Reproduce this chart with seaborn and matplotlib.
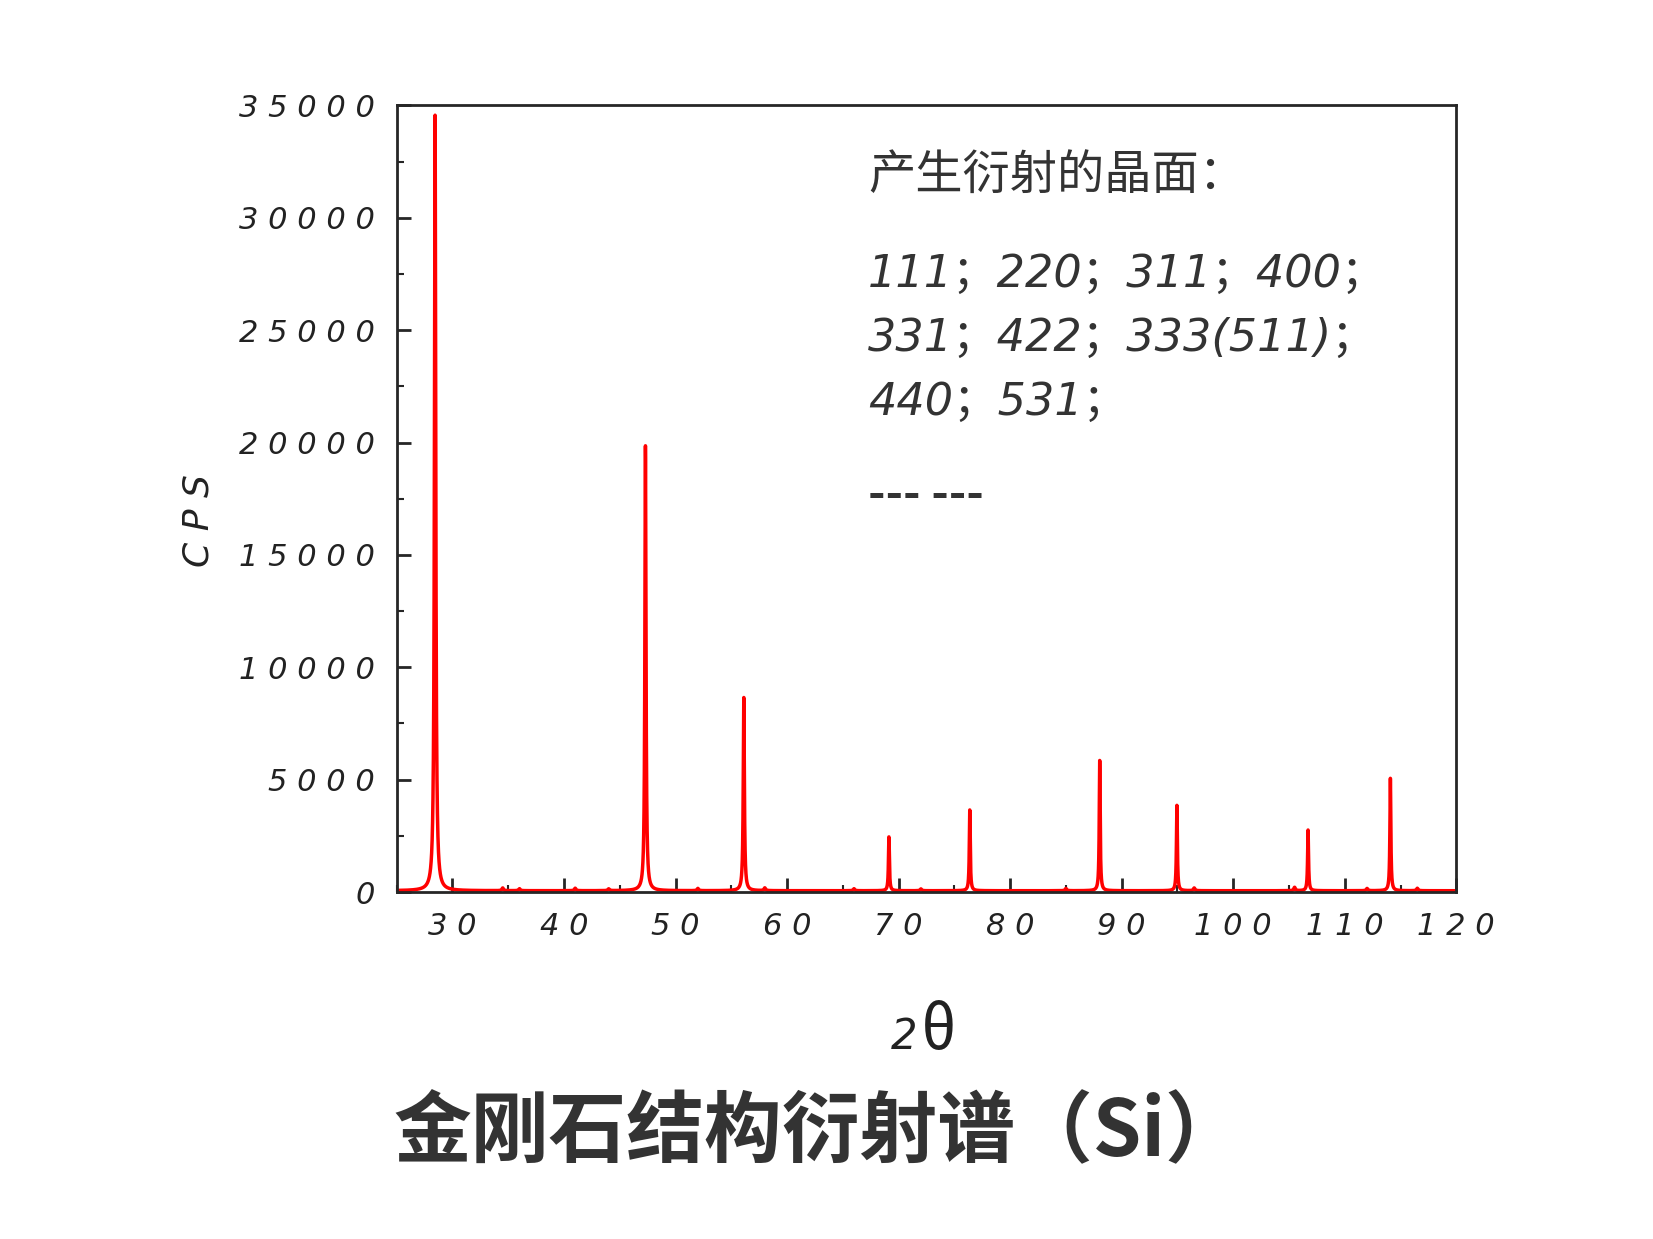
import numpy as np
import pandas as pd
import matplotlib
matplotlib.use("Agg")
import matplotlib.pyplot as plt
import seaborn as sns
from matplotlib.ticker import MultipleLocator

sns.set_style("ticks")
plt.rcParams['font.family'] = ['Noto Sans CJK SC', 'DejaVu Sans']

# Si diffraction peaks
peak_pos = [28.44, 47.30, 56.12, 69.13, 76.38, 88.03, 94.95, 106.71, 114.09]
peak_height = [34500, 19800, 8600, 2400, 3600, 5800, 3800, 2700, 5000]
peak_width = [0.07, 0.06, 0.06, 0.05, 0.05, 0.05, 0.05, 0.05, 0.05]
# small background bumps
bump_pos = [34.5, 36.0, 41.0, 44.0, 52.0, 58.0, 66.0, 72.0, 85.0, 96.5, 105.5, 112.0, 116.5]
bump_height = [120, 90, 110, 80, 100, 120, 90, 80, 100, 120, 150, 100, 110]

x_ticks = [30, 40, 50, 60, 70, 80, 90, 100, 110, 120]
y_ticks = [0, 5000, 10000, 15000, 20000, 25000, 30000, 35000]

theta = np.linspace(25, 120, 19000)
cps = np.full_like(theta, 60.0)
for p, h, w in zip(peak_pos, peak_height, peak_width):
    cps += h / (1 + ((theta - p) / w) ** 2)
for p, h in zip(bump_pos, bump_height):
    cps += h / (1 + ((theta - p) / 0.08) ** 2)
df = pd.DataFrame({"theta": theta, "cps": cps})

fig = plt.figure(figsize=(16.53, 12.39), dpi=100)
ax = fig.add_axes([0.24, 0.28, 0.641, 0.635])
sns.lineplot(data=df, x="theta", y="cps", color="#ff0000", linewidth=2.5, ax=ax)

tick_font = dict(family="DejaVu Sans", style="italic", fontsize=22, color="#222222")
ax.set_xlim(25, 120)
ax.set_ylim(0, 35000)
ax.set_xticks(x_ticks)
ax.set_yticks(y_ticks)
ax.xaxis.set_minor_locator(MultipleLocator(5))
ax.yaxis.set_minor_locator(MultipleLocator(2500))
ax.set_xticklabels([" ".join(str(t)) for t in x_ticks], **tick_font)
ax.set_yticklabels([" ".join(str(t)) for t in y_ticks], **tick_font)
ax.tick_params(which="major", direction="in", length=10, width=2)
ax.tick_params(which="minor", direction="in", length=5, width=1.5)
ax.tick_params(axis="x", pad=14)
ax.tick_params(axis="y", pad=16)
for s in ax.spines.values():
    s.set_linewidth(2)
ax.set_xlabel("")
ax.set_ylabel("")

fig.text(0.12, 0.58, "C P S", rotation=90, fontsize=26, family="DejaVu Sans", style="italic",
         ha="center", va="center", color="#222222")
fig.text(0.555, 0.163, "2", fontsize=30, family="DejaVu Sans", style="italic", ha="right",
         va="center", color="#222222")
fig.text(0.557, 0.167, "θ", fontsize=44, ha="left", va="center", color="#222222")

ax.text(0.445, 0.91, "产生衍射的晶面：", transform=ax.transAxes, fontsize=34, color="#333333", va="center")
lines = ["111；220；311；400；", "331；422；333(511)；", "440；531；"]
for i, t in enumerate(lines):
    ax.text(0.445, 0.785 - i * 0.081, t, transform=ax.transAxes, fontsize=32, style="italic",
            family=["DejaVu Sans", "Noto Sans CJK SC"], color="#333333", va="center")
ax.text(0.445, 0.505, "--- ---", transform=ax.transAxes, fontsize=34, fontweight="bold",
        color="#333333", va="center")

fig.text(0.495, 0.085, "金刚石结构衍射谱（Si）", fontsize=56, fontweight="bold",
         ha="center", va="center", color="#333333")

fig.savefig("out.png", dpi=100, facecolor="white")
